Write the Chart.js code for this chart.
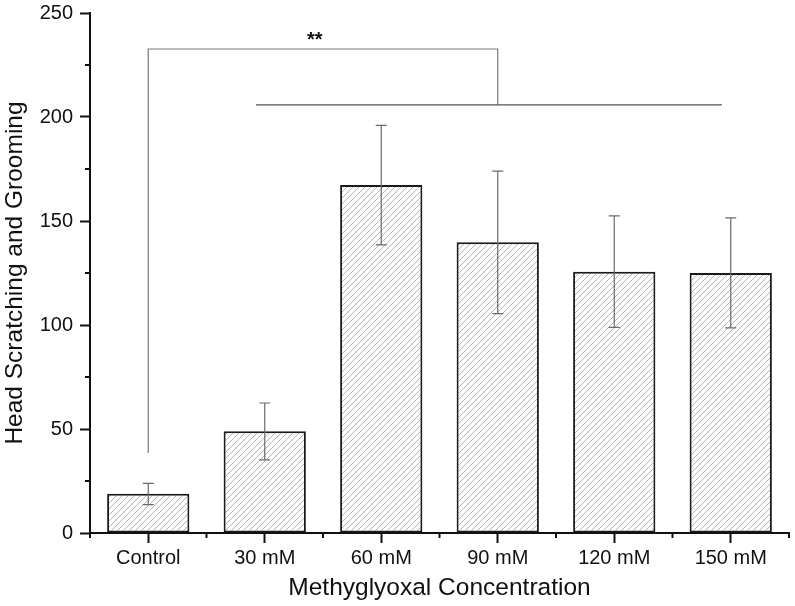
<!DOCTYPE html>
<html>
<head>
<meta charset="utf-8">
<script src="https://cdn.jsdelivr.net/npm/chart.js@4/dist/chart.umd.min.js"></script>
<style>
  html,body{margin:0;padding:0;background:#fff;}
  #wrap{width:795px;height:606px;}
</style>
</head>
<body>
<div id="wrap"><canvas id="c" width="795" height="606"></canvas></div>
<script>
// ---- data ----
const categories = ['Control', '30 mM', '60 mM', '90 mM', '120 mM', '150 mM'];
const means      = [18.9, 48.9, 167.3, 139.8, 125.6, 125.0];
const errUpper   = [23.9, 62.5, 196.0, 174.0, 152.5, 151.5];
const errLower   = [13.6, 35.2, 138.5, 105.5, 98.9, 98.6];
const yTickValues = [0, 50, 100, 150, 200, 250];
const yMinorValues = [25, 75, 125, 175, 225];
// significance bracket (values in data units)
const bracketStartValue = 38.5;
const bracketTopValue = 232.7;
const bracketLowValue = 205.8;
const bracketTopFrom = 0, bracketTopTo = 3;        // category indices
const bracketLowFrom = 0.925, bracketLowTo = 4.925; // category indices
const starLabel = '**';
const starIndex = 1.43, starValue = 234;

const FONT = "'Liberation Sans', Arial, sans-serif";
const canvas = document.getElementById('c');
const ctx = canvas.getContext('2d');

function makeHatch() {
  const s = 6;
  const c = document.createElement('canvas');
  c.width = s; c.height = s;
  const g = c.getContext('2d');
  g.fillStyle = '#ffffff';
  g.fillRect(0, 0, s, s);
  g.strokeStyle = '#ababab';
  g.lineWidth = 0.9;
  g.beginPath();
  g.moveTo(0, s); g.lineTo(s, 0);
  g.moveTo(-1, 1); g.lineTo(1, -1);
  g.moveTo(s - 1, s + 1); g.lineTo(s + 1, s - 1);
  g.stroke();
  return ctx.createPattern(c, 'repeat');
}

const annotPlugin = {
  id: 'annot',
  afterDraw(chart) {
    const c = chart.ctx;
    const xs = chart.scales.x, ys = chart.scales.y;
    const meta = chart.getDatasetMeta(0);
    c.save();
    // minor ticks y
    c.strokeStyle = '#111'; c.lineWidth = 2;
    yMinorValues.forEach(v => {
      const y = ys.getPixelForValue(v);
      c.beginPath(); c.moveTo(xs.left - 5, y); c.lineTo(xs.left, y); c.stroke();
    });
    // minor ticks x (category boundaries)
    for (let i = 0; i <= categories.length; i++) {
      const x = xs.getPixelForValue(i - 0.5);
      c.beginPath(); c.moveTo(x, ys.bottom); c.lineTo(x, ys.bottom + 5); c.stroke();
    }
    // error bars
    c.strokeStyle = '#6a6a6a'; c.lineWidth = 1.2;
    meta.data.forEach((bar, i) => {
      const x = bar.x;
      const yt = ys.getPixelForValue(errUpper[i]);
      const yb = ys.getPixelForValue(errLower[i]);
      c.beginPath();
      c.moveTo(x, yt); c.lineTo(x, yb);
      c.moveTo(x - 5.5, yt); c.lineTo(x + 5.5, yt);
      c.moveTo(x - 5.5, yb); c.lineTo(x + 5.5, yb);
      c.stroke();
    });
    // bracket
    c.strokeStyle = '#7a7a7a'; c.lineWidth = 1.2;
    const x0 = xs.getPixelForValue(bracketTopFrom);
    const x1 = xs.getPixelForValue(bracketTopTo);
    const yS = ys.getPixelForValue(bracketStartValue);
    const yT = ys.getPixelForValue(bracketTopValue);
    const yL = ys.getPixelForValue(bracketLowValue);
    c.beginPath();
    c.moveTo(x0, yS); c.lineTo(x0, yT); c.lineTo(x1, yT); c.lineTo(x1, yL);
    c.stroke();
    c.strokeStyle = '#555';
    c.beginPath();
    c.moveTo(xs.getPixelForValue(bracketLowFrom), yL);
    c.lineTo(xs.getPixelForValue(bracketLowTo), yL);
    c.stroke();
    // stars
    c.fillStyle = '#111';
    c.font = 'bold 20px ' + FONT;
    c.textAlign = 'center';
    c.textBaseline = 'alphabetic';
    c.fillText(starLabel, xs.getPixelForValue(starIndex), ys.getPixelForValue(starValue));
    c.restore();
  }
};

new Chart(ctx, {
  type: 'bar',
  data: {
    labels: categories,
    datasets: [{
      data: means,
      backgroundColor: makeHatch(),
      borderColor: '#1a1a1a',
      borderWidth: 2,
      borderSkipped: false,
      barPercentage: 0.706,
      categoryPercentage: 1.0
    }]
  },
  options: {
    responsive: false,
    animation: false,
    devicePixelRatio: 1,
    layout: { padding: { top: 13, right: 6, bottom: 0, left: 0 } },
    plugins: { legend: { display: false }, tooltip: { enabled: false } },
    scales: {
      x: {
        type: 'category',
        offset: true,
        grid: { display: true, offset: false, drawOnChartArea: false, drawTicks: true,
                tickLength: 10, tickWidth: 2, tickColor: '#111' },
        border: { display: true, color: '#111', width: 2 },
        ticks: { color: '#111', font: { family: FONT, size: 20 }, padding: 3, maxRotation: 0, autoSkip: false },
        title: { display: true, text: 'Methyglyoxal Concentration', color: '#111',
                 font: { family: FONT, size: 24.5 }, padding: { top: 0, bottom: 3 } },
        afterFit(s) { s.height = 73; s.paddingLeft = 0; s.paddingRight = 0; }
      },
      y: {
        min: 0, max: 250,
        afterBuildTicks(s) { s.ticks = yTickValues.map(v => ({ value: v })); },
        grid: { display: true, drawOnChartArea: false, drawTicks: true,
                tickLength: 10, tickWidth: 2, tickColor: '#111' },
        border: { display: true, color: '#111', width: 2 },
        ticks: { color: '#111', font: { family: FONT, size: 20 }, padding: 7 },
        title: { display: true, text: 'Head Scratching and Grooming', color: '#111',
                 font: { family: FONT, size: 24.5 }, padding: { top: 1, bottom: 0 } },
        afterFit(s) { s.width = 90; s.paddingTop = 0; s.paddingBottom = 0; }
      }
    }
  },
  plugins: [annotPlugin]
});
</script>
</body>
</html>
